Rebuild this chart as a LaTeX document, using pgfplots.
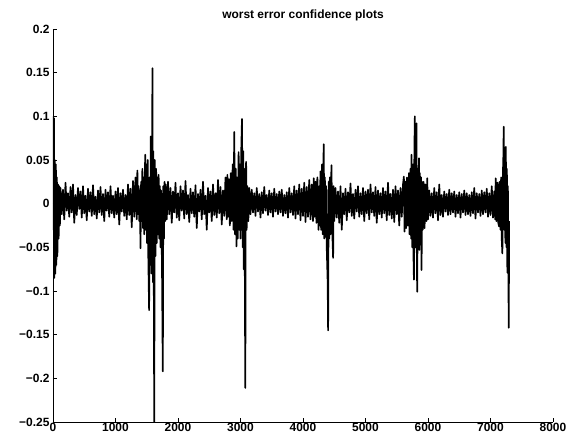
\documentclass[border=0pt]{standalone}
\usepackage{pgfplots}
\pgfplotsset{compat=1.18}
\usepackage{fontspec}
\setmainfont{Liberation Sans}
\begin{document}
\begin{tikzpicture}
\useasboundingbox (-53bp,-20bp) rectangle (524bp,422bp);
\begin{axis}[
  scale only axis, width=500bp, height=393bp,
  xmin=0, xmax=8000, ymin=-0.25, ymax=0.2,
  axis x line*=bottom, axis y line*=left,
  axis line style={line width=0.7pt, black},
  tick align=inside, major tick length=4bp,
  tick style={black, line width=0.7pt},
  xtick={0,1000,2000,3000,4000,5000,6000,7000,8000},
  xticklabels={0,1000,2000,3000,4000,5000,6000,7000,8000},
  ytick={-0.25,-0.2,-0.15,-0.1,-0.05,0,0.05,0.1,0.15,0.2},
  yticklabels={−0.25,−0.2,−0.15,−0.1,−0.05,0,0.05,0.1,0.15,0.2},
  ticklabel style={font=\fontsize{12}{14}\selectfont\bfseries},
  xticklabel style={yshift=2.5bp},
  title={worst error confidence plots},
  title style={font=\fontsize{12}{14}\selectfont\bfseries, yshift=-1.5bp},
]
\addplot[black, line width=1.7pt, line join=round] table {
x y
0 0.100
8 -0.030
15 0.098
22 -0.085
30 0.050
38 -0.080
46 0.045
54 -0.070
62 0.030
70 -0.060
80 0.022
90 -0.040
100 0.020
110 -0.025
120 0.018
140 -0.012
160 0.016
180 -0.018
200 0.024
220 -0.008
240 0.012
260 -0.015
280 0.019
300 -0.010
320 0.022
340 -0.022
360 0.010
380 -0.013
400 0.018
420 -0.006
440 0.014
460 -0.016
480 0.020
500 -0.011
520 0.009
540 -0.019
560 0.017
580 -0.009
600 0.013
620 -0.014
640 0.021
660 -0.012
680 0.008
700 -0.017
720 0.015
740 -0.010
760 0.019
780 -0.013
800 0.011
820 -0.020
840 0.016
860 -0.008
880 0.013
900 -0.015
920 0.020
940 -0.011
960 0.009
980 -0.016
1000 0.014
1020 -0.012
1040 0.018
1060 -0.024
1080 0.012
1100 -0.009
1120 0.016
1140 -0.014
1160 0.010
1180 -0.018
1200 0.022
1220 -0.013
1240 0.017
1260 -0.027
1280 0.026
1300 -0.015
1320 0.030
1340 -0.018
1350 0.038
1360 -0.012
1370 0.020
1380 -0.020
1390 0.015
1400 -0.051
1410 0.025
1420 -0.020
1430 0.040
1440 -0.028
1450 0.030
1460 -0.035
1475 0.056
1485 -0.030
1495 0.045
1505 -0.045
1515 0.050
1525 -0.060
1538 -0.122
1545 0.030
1555 -0.070
1565 0.077
1575 -0.080
1585 0.070
1592 0.155
1598 -0.090
1605 0.060
1612 -0.070
1620 -0.250
1628 0.050
1640 -0.060
1650 0.040
1660 -0.045
1670 0.030
1680 -0.035
1690 0.033
1700 -0.040
1710 0.020
1720 -0.050
1730 0.015
1745 -0.080
1757 -0.192
1765 0.020
1775 -0.040
1785 0.025
1795 -0.020
1805 0.022
1820 -0.018
1840 0.025
1860 -0.012
1880 0.018
1900 -0.022
1920 0.014
1940 -0.010
1960 0.024
1980 -0.016
2000 0.012
2020 -0.019
2040 0.020
2060 -0.008
2080 0.015
2100 -0.017
2120 0.026
2140 -0.012
2160 0.010
2180 -0.021
2200 0.017
2220 -0.011
2240 0.013
2260 -0.015
2280 0.021
2300 -0.028
2320 0.011
2340 -0.009
2360 0.016
2380 -0.018
2400 0.025
2420 -0.012
2440 0.009
2460 -0.030
2480 0.018
2500 -0.010
2520 0.014
2540 -0.020
2560 0.022
2580 -0.013
2600 0.012
2620 -0.016
2640 0.027
2660 -0.011
2680 0.019
2700 -0.024
2720 0.015
2740 -0.014
2760 0.030
2780 -0.018
2790 0.033
2800 -0.015
2815 0.028
2830 -0.025
2845 0.035
2860 -0.020
2875 0.045
2888 -0.030
2900 0.082
2912 -0.035
2925 0.040
2935 -0.049
2945 0.030
2955 -0.040
2970 0.059
2980 -0.030
2990 0.045
3000 -0.040
3012 0.060
3024 0.097
3035 -0.050
3045 0.060
3052 -0.075
3062 0.040
3070 -0.090
3077 -0.211
3084 0.030
3090 0.048
3098 -0.030
3110 0.020
3125 -0.020
3140 0.018
3160 -0.012
3180 0.016
3200 -0.010
3220 0.012
3240 -0.014
3260 0.018
3280 -0.009
3300 0.011
3320 -0.016
3340 0.013
3360 -0.011
3380 0.019
3400 -0.008
3420 0.010
3440 -0.013
3460 0.015
3480 -0.010
3500 0.012
3520 -0.015
3540 0.017
3560 -0.009
3580 0.011
3600 -0.012
3620 0.014
3640 -0.010
3660 0.016
3680 -0.014
3700 0.010
3720 -0.011
3740 0.013
3760 -0.016
3780 0.018
3800 -0.010
3820 0.012
3840 -0.013
3860 0.020
3880 -0.017
3900 0.015
3920 -0.012
3940 0.022
3960 -0.019
3980 0.017
4000 -0.014
4020 0.024
4040 -0.021
4060 0.019
4080 -0.015
4100 0.027
4120 -0.018
4140 0.022
4160 -0.020
4172 0.029
4185 -0.015
4200 0.025
4215 -0.022
4230 0.030
4249 -0.030
4260 0.020
4270 -0.025
4279 0.037
4290 -0.030
4305 0.045
4315 -0.035
4325 0.040
4332 0.068
4340 -0.040
4350 0.030
4359 -0.038
4370 0.020
4380 -0.050
4395 -0.090
4402 -0.145
4410 0.025
4420 -0.040
4430 0.030
4440 -0.035
4455 0.044
4468 -0.030
4482 -0.062
4490 0.020
4500 -0.020
4520 0.018
4540 -0.016
4560 0.014
4580 -0.022
4600 0.020
4620 -0.030
4640 0.012
4660 -0.012
4680 0.017
4700 -0.019
4720 0.013
4740 -0.010
4760 0.023
4780 -0.014
4800 0.011
4820 -0.017
4840 0.016
4860 -0.009
4880 0.020
4900 -0.015
4920 0.012
4940 -0.012
4960 0.018
4980 -0.020
5000 0.014
5020 -0.011
5040 0.016
5060 -0.018
5080 0.022
5100 -0.010
5120 0.013
5140 -0.014
5160 0.019
5180 -0.022
5200 0.015
5220 -0.012
5240 0.012
5260 -0.016
5280 0.018
5300 -0.011
5320 0.014
5340 -0.019
5360 0.024
5380 -0.013
5400 0.011
5420 -0.017
5440 0.016
5460 -0.021
5480 0.020
5500 -0.012
5520 0.015
5540 -0.025
5560 0.018
5580 -0.015
5600 0.022
5614 0.031
5625 -0.032
5640 0.025
5650 -0.028
5665 0.030
5680 -0.025
5695 0.035
5705 -0.035
5720 0.040
5730 -0.040
5737 0.056
5748 -0.050
5760 0.045
5768 -0.060
5775 -0.087
5782 0.060
5790 0.100
5798 -0.050
5808 0.060
5817 0.092
5822 -0.070
5828 -0.101
5836 0.040
5845 -0.045
5855 0.052
5862 -0.053
5870 0.035
5880 -0.040
5890 0.030
5897 -0.076
5905 0.025
5915 -0.030
5930 0.025
5945 -0.028
5960 0.022
5975 -0.020
5988 0.029
6000 -0.018
6020 0.015
6040 -0.014
6060 0.012
6080 -0.016
6100 0.018
6120 -0.011
6140 0.013
6160 -0.019
6180 0.022
6200 -0.013
6220 0.010
6240 -0.015
6260 0.014
6280 -0.009
6300 0.011
6320 -0.013
6340 0.016
6360 -0.012
6380 0.012
6400 -0.010
6420 0.014
6440 -0.015
6460 0.010
6480 -0.011
6500 0.013
6520 -0.016
6540 0.011
6560 -0.010
6580 0.015
6600 -0.013
6620 0.012
6640 -0.012
6660 0.010
6680 -0.014
6700 0.013
6720 -0.011
6740 0.018
6760 -0.017
6780 0.012
6800 -0.010
6820 0.011
6840 -0.014
6860 0.015
6880 -0.012
6900 0.013
6920 -0.010
6940 0.017
6960 -0.015
6980 0.012
7000 -0.013
7020 0.020
7040 -0.016
7060 0.014
7075 -0.018
7083 0.029
7095 -0.020
7110 0.024
7125 -0.022
7137 -0.026
7145 0.025
7160 -0.030
7170 0.030
7180 -0.040
7190 -0.057
7198 0.034
7205 0.050
7212 0.088
7220 -0.030
7230 0.060
7238 -0.045
7245 0.065
7255 -0.050
7262 0.040
7270 -0.079
7278 0.020
7285 -0.060
7292 -0.142
7298 -0.020
};
\end{axis}
\end{tikzpicture}
\end{document}
